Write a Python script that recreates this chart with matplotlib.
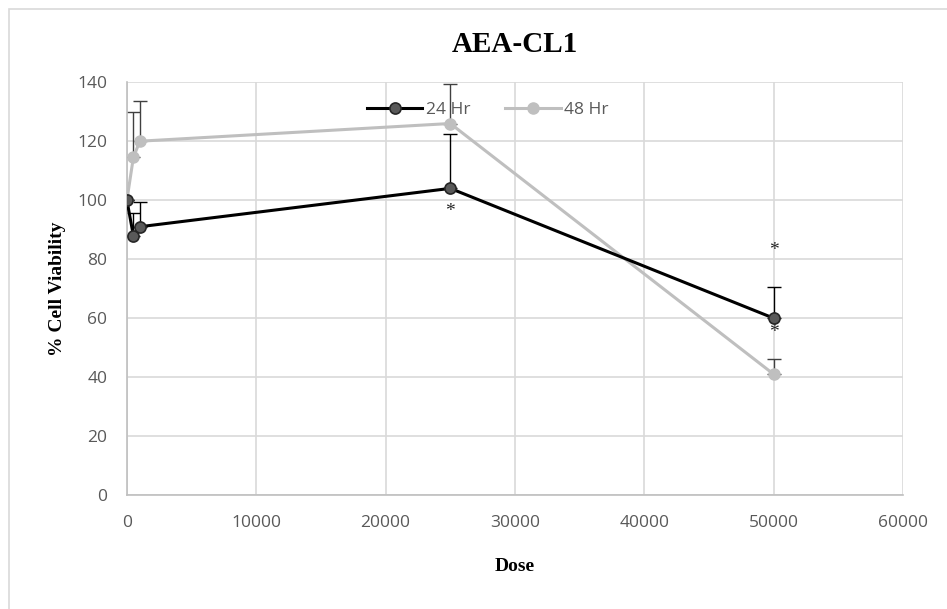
import numpy as np
import matplotlib
matplotlib.use("Agg")
import matplotlib.pyplot as plt
from matplotlib.patches import Rectangle

# Viability data (dose in arbitrary units, % of control)
dose = [0, 500, 1000, 25000, 50000]
viab_24 = [100, 88, 91, 104, 60]
err_24 = [0, 7.5, 8.5, 18.5, 10.5]
viab_48 = [100, 114.5, 120, 126, 41]
err_48 = [0, 15.5, 13.5, 13.5, 5]

# significance markers (dose, y position)
star_x = [25000, 50000, 50000]
star_y = [96, 83, 55]

fig = plt.figure(figsize=(9.47, 6.09), dpi=100)
ax = fig.add_axes([0.134, 0.187, 0.8195, 0.678])

# chart frame
fig.patches.append(Rectangle((9 / 947, -0.1), 1.2, 1 - 9 / 609 + 0.1,
                             transform=fig.transFigure, fill=False,
                             edgecolor="#d9d9d9", lw=1.2))

ax.errorbar(dose, viab_24, yerr=[np.zeros(5), err_24], fmt="none",
            ecolor="#000000", elinewidth=1, capsize=5, capthick=1, zorder=2)
ax.errorbar(dose, viab_48, yerr=[np.zeros(5), err_48], fmt="none",
            ecolor="#404040", elinewidth=1, capsize=5, capthick=1, zorder=2)

ax.plot(dose, viab_24, "-o", color="#000000", lw=2.2, ms=8,
        mfc="#595959", mec="#262626", mew=1.2, label="24 Hr", zorder=4)
ax.plot(dose, viab_48, "-o", color="#bfbfbf", lw=2.2, ms=8,
        mfc="#bfbfbf", mec="#bfbfbf", label="48 Hr", zorder=3)

for sx, sy in zip(star_x, star_y):
    ax.text(sx, sy, "*", ha="center", va="center", fontsize=14,
            family="Liberation Serif", color="#262626")

ax.set_xlim(0, 60000)
ax.set_ylim(0, 140)
ax.set_xticks(np.arange(0, 60001, 10000))
ax.set_yticks(np.arange(0, 141, 20))
ax.grid(True, color="#d9d9d9", lw=1.2)
ax.set_axisbelow(True)
for side in ["top", "right"]:
    ax.spines[side].set_visible(False)
for side in ["left", "bottom"]:
    ax.spines[side].set_color("#bfbfbf")
    ax.spines[side].set_linewidth(1.2)
ax.tick_params(length=0, labelsize=12.5, labelcolor="#595959")
ax.tick_params(axis="x", pad=14)
ax.tick_params(axis="y", pad=14)
for lab in ax.get_xticklabels() + ax.get_yticklabels():
    lab.set_family("Open Sans")

ax.set_title("AEA-CL1", family="Liberation Serif", fontweight="bold",
             fontsize=21, pad=22)
ax.set_xlabel("Dose", family="Liberation Serif", fontweight="bold",
              fontsize=14, labelpad=20)
ax.set_ylabel("% Cell Viability", family="Liberation Serif",
              fontweight="bold", fontsize=14, labelpad=8)

leg = ax.legend(loc="upper center", bbox_to_anchor=(0.465, 0.99), ncol=2,
                frameon=False, handlelength=3.2, columnspacing=2.0,
                prop={"family": "Open Sans", "size": 12.5}, handletextpad=0.2)
for t in leg.get_texts():
    t.set_color("#595959")

fig.savefig("out.png", dpi=100)
